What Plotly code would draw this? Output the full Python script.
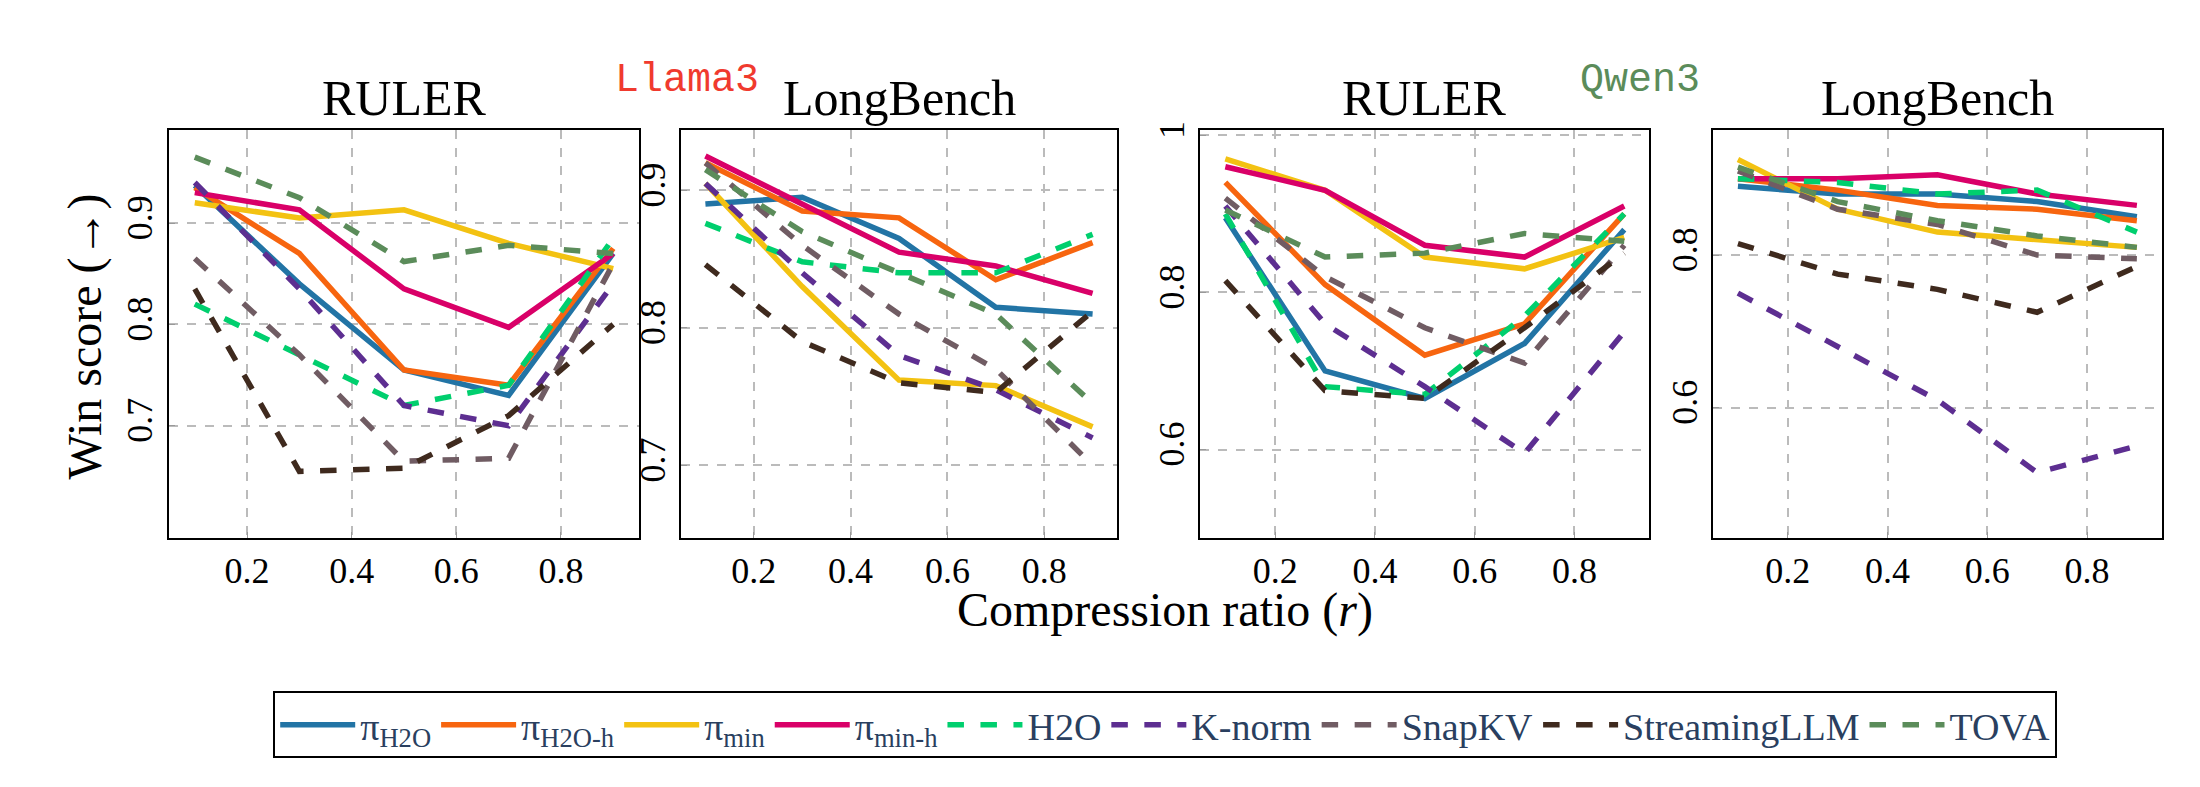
import plotly.graph_objects as go

ratios = [0.1, 0.3, 0.5, 0.7, 0.9]
methods = ["π<sub>H2O</sub>", "π<sub>H2O-h</sub>", "π<sub>min</sub>", "π<sub>min-h</sub>",
           "H2O", "K-norm", "SnapKV", "StreamingLLM", "TOVA"]
colors = ["#2274A5", "#F7650F", "#F3C212", "#D90068", "#00CF6E",
          "#5D2E91", "#705C63", "#3F2A1E", "#5B8C5A"]
solid = [True, True, True, True, False, False, False, False, False]

# one list per method, in the order of `methods`
llama_ruler = [
    [0.937, 0.84, 0.755, 0.73, 0.87],
    [0.935, 0.87, 0.755, 0.74, 0.875],
    [0.92, 0.905, 0.913, 0.88, 0.855],
    [0.93, 0.913, 0.835, 0.797, 0.87],
    [0.82, 0.77, 0.72, 0.74, 0.885],
    [0.94, 0.835, 0.72, 0.70, 0.84],
    [0.865, 0.77, 0.665, 0.668, 0.86],
    [0.835, 0.655, 0.658, 0.71, 0.80],
    [0.965, 0.925, 0.862, 0.878, 0.87],
]
llama_longbench = [
    [0.89, 0.895, 0.865, 0.815, 0.81],
    [0.92, 0.885, 0.88, 0.835, 0.862],
    [0.905, 0.83, 0.762, 0.758, 0.728],
    [0.925, 0.89, 0.855, 0.845, 0.825],
    [0.876, 0.848, 0.84, 0.84, 0.868],
    [0.905, 0.84, 0.78, 0.755, 0.72],
    [0.92, 0.86, 0.81, 0.77, 0.70],
    [0.846, 0.79, 0.76, 0.753, 0.812],
    [0.915, 0.87, 0.84, 0.81, 0.745],
]
qwen_ruler = [
    [0.895, 0.70, 0.665, 0.735, 0.88],
    [0.94, 0.81, 0.72, 0.76, 0.9],
    [0.97, 0.93, 0.845, 0.83, 0.87],
    [0.96, 0.93, 0.86, 0.845, 0.91],
    [0.9, 0.68, 0.67, 0.77, 0.9],
    [0.91, 0.76, 0.68, 0.595, 0.75],
    [0.92, 0.82, 0.755, 0.71, 0.86],
    [0.815, 0.675, 0.665, 0.755, 0.85],
    [0.905, 0.845, 0.85, 0.875, 0.865],
]
qwen_longbench = [
    [0.89, 0.88, 0.88, 0.87, 0.85],
    [0.9, 0.885, 0.865, 0.86, 0.845],
    [0.925, 0.86, 0.83, 0.82, 0.81],
    [0.9, 0.9, 0.905, 0.88, 0.865],
    [0.9, 0.895, 0.88, 0.885, 0.83],
    [0.75, 0.68, 0.61, 0.515, 0.55],
    [0.91, 0.86, 0.84, 0.80, 0.795],
    [0.815, 0.775, 0.755, 0.725, 0.785],
    [0.915, 0.87, 0.845, 0.825, 0.81],
]

panels = [llama_ruler, llama_longbench, qwen_ruler, qwen_longbench]
panel_titles = ["RULER", "LongBench", "RULER", "LongBench"]
domains = [[0.073, 0.287], [0.306, 0.504], [0.542, 0.746], [0.775, 0.979]]
yranges = [[0.589, 0.992], [0.647, 0.944], [0.487, 1.007], [0.429, 0.964]]
yticks = [[0.7, 0.8, 0.9], [0.7, 0.8, 0.9], [0.6, 0.8, 1.0], [0.6, 0.8]]
yticktext = [["0.7", "0.8", "0.9"], ["0.7", "0.8", "0.9"], ["0.6", "0.8", "1"], ["0.6", "0.8"]]

FONT = "Liberation Serif"
fig = go.Figure()

for p, data in enumerate(panels):
    ax = "" if p == 0 else str(p + 1)
    for m, vals in enumerate(data):
        fig.add_trace(go.Scatter(
            x=ratios, y=vals, mode="lines", name=methods[m],
            xaxis="x" + ax, yaxis="y" + ax, showlegend=(p == 0),
            line=dict(color=colors[m], width=5.5,
                      dash="solid" if solid[m] else "dash"),
        ))
    axis_common = dict(showline=True, mirror=True, linecolor="black", linewidth=2,
                       showgrid=True, gridcolor="#BBBBBB", griddash="dash", gridwidth=1.5,
                       zeroline=False, ticks="inside", ticklen=6, tickcolor="#999999",
                       tickfont=dict(family=FONT, size=36, color="black"))
    fig.layout["xaxis" + ax] = dict(axis_common, domain=domains[p], anchor="y" + ax,
                                   range=[0.05, 0.95], tickvals=[0.2, 0.4, 0.6, 0.8])
    fig.layout["yaxis" + ax] = dict(axis_common, domain=[0.33, 0.855], anchor="x" + ax,
                                   range=yranges[p], tickvals=yticks[p],
                                   ticktext=yticktext[p], tickangle=-90)
    fig.add_annotation(text=panel_titles[p], xref="paper", yref="paper",
                       x=sum(domains[p]) / 2, y=0.857, xanchor="center", yanchor="bottom",
                       showarrow=False, font=dict(family=FONT, size=50, color="black"))

fig.add_annotation(text="Llama3", xref="paper", yref="paper", x=0.275, y=0.95,
                   showarrow=False, font=dict(family="Liberation Mono", size=40, color="#F03A2E"))
fig.add_annotation(text="Qwen3", xref="paper", yref="paper", x=0.77, y=0.95,
                   showarrow=False, font=dict(family="Liberation Mono", size=40, color="#5B8C5A"))
fig.add_annotation(text="Compression ratio (<i>r</i>)", xref="paper", yref="paper",
                   x=0.526, y=0.2, showarrow=False,
                   font=dict(family=FONT, size=48, color="black"))
fig.add_annotation(text="Win score (→)", xref="paper", yref="paper", x=0.022, y=0.59,
                   textangle=-90, showarrow=False,
                   font=dict(family=FONT, size=48, color="black"))

fig.update_layout(
    width=2200, height=787, plot_bgcolor="white", paper_bgcolor="white",
    margin=dict(l=0, r=0, t=0, b=0),
    legend=dict(orientation="h", x=0.526, xanchor="center", y=0.09, yanchor="middle",
                bordercolor="black", borderwidth=2, font=dict(family=FONT, size=38),
                itemwidth=75, tracegroupgap=0),
)

fig.write_html("out.html")
